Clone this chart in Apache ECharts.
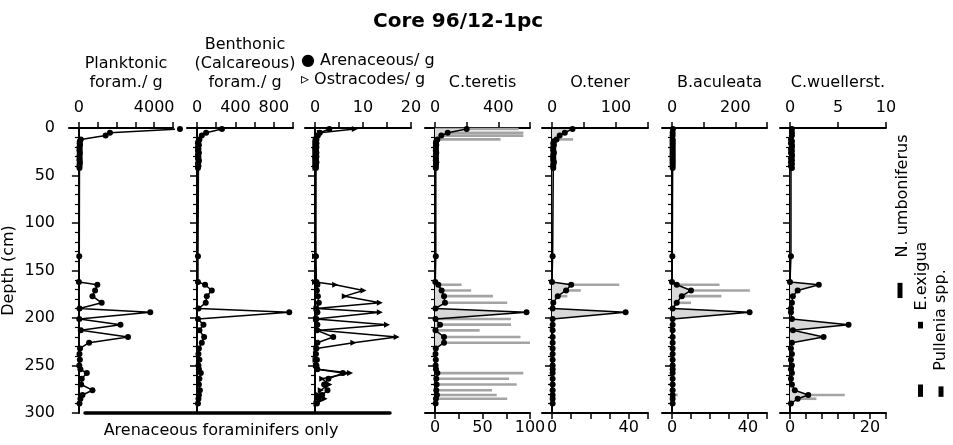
<!DOCTYPE html>
<html><head><meta charset="utf-8">
<script src="https://cdn.jsdelivr.net/npm/echarts@6/dist/echarts.min.js"></script>
<style>html,body{margin:0;padding:0;background:#fff}#c{width:953px;height:445px}</style>
</head><body><div id="c"></div>
<script>
// ---------- DATA ----------
const depthCm = [1,5,8,12,14,16,18,20,22,24,26,28,30,32,34,36,38,40,42,
  135,
  162,165,171,177,184,190,194,201,207,213,220,226,232,238,244,250,254,258,264,270,276,281,285,290];

const planktonic = [5370,1650,1420,100,50,40,60,30,40,30,50,40,30,40,30,50,40,30,30,
  20,
  0,980,860,720,1210,30,3790,20,2210,100,2610,540,60,30,50,20,80,420,150,120,720,190,80,30];
const benthonic = [260,95,50,25,15,10,20,10,15,10,20,10,15,10,20,15,10,15,10,
  10,
  10,84,154,102,91,15,961,10,67,25,74,50,20,15,25,15,20,40,25,20,30,20,15,10];
const arenaceous = [3.0,1.0,0.6,0.3,0.2,0.3,0.2,0.3,0.2,0.2,0.3,0.2,0.3,0.2,0.2,0.3,0.2,0.2,0.2,
  0.2,
  0.3,0.5,0.4,0.6,0.8,0.3,0.5,0.3,0.5,0.4,3.8,0.5,0.3,0.2,0.4,0.3,0.5,5.8,2.8,1.9,2.6,1.5,0.8,0.4];
const ostracodes = [8.3,1.0,0.4,0.2,0.1,0.1,0.2,0.1,0.1,0.1,0.2,0.1,0.1,0.1,0.1,0.2,0.1,0.1,0.1,
  0,
  0,4.2,10.1,6.2,13.5,0.3,13.5,0.2,15.0,1.0,17.0,8.0,0.3,0.2,0.1,0.2,0.5,7.3,1.5,3.0,1.2,0.8,2.0,0.3];
const teretis = [200,80,40,15,8,6,8,5,6,5,8,6,5,6,5,8,6,5,5,
  5,
  2,21,42,57,63,3,578,3,32,3,57,57,5,3,5,4,6,15,8,10,8,12,6,4];
const tener = [32,20,12,7,3,2,3,2,2,2,3,2,2,2,2,3,2,2,2,
  1,
  0,30,22,9,2,1,115,1,1,1,1,1,1,1,1,1,1,1,1,1,1,1,1,1];
const aculeata = [3,2,2,2,2,2,2,2,2,2,2,2,2,2,2,2,2,2,2,
  1,
  0,15,60,31,15,2,245,2,2,2,2,2,2,2,2,2,2,2,2,2,2,2,2,2];
const wuellerst = [0.2,0.2,0.2,0.1,0.2,0.1,0.2,0.2,0.1,0.2,0.1,0.2,0.2,0.1,0.2,0.1,0.2,0.1,0.2,
  0.1,
  0,3.0,0.8,0.3,0.2,0.1,0.1,0.2,6.1,0.3,3.5,0.2,0.1,0.2,0.1,0.2,0.1,0.2,0.1,0.2,0.5,1.9,0.8,0.1];

// percentages (grey bars, lower axes)
const teretisPctDepth = [1,5,8,12,165,171,177,184,201,207,213,220,226,258,264,270,276,281,285];
const teretisPct      = [88,93,93,69,28,38,61,76,80,80,47,90,100,93,78,86,60,65,76];
const tenerPctDepth = [12,165,171,177];
const tenerPct      = [11,35,15,8];
const aculeataPctDepth = [165,171,177,184,281];
const aculeataPct      = [25,41,26,10,3];
const wuellerstPctDepth = [281,285];
const wuellerstPct      = [13.7,6.6];

// presence markers (right side)
const markerTaxa = ['N. umboniferus','E.exigua','Pullenia spp.'];
const markerTaxon = [0,1,1,2];
const markerTop = [163,204,270,272];
const markerBottom = [179,211,283,283];

// axis ticks / labels
const depthTicks = [0,50,100,150,200,250,300];
const planktTicks = [0,1000,2000,3000,4000,5000], planktLabels = [0,4000];
const benthTicks = [0,200,400,600,800,1000], benthLabels = [0,400,800];
const arenTicks = [0,5,10,15,20], arenLabels = [0,10,20];
const teretisTicks = [0,200,400,600], teretisLabels = [0,400];
const teretisPctTicks = [0,25,50,75,100], teretisPctLabels = [0,50,100];
const tenerTicks = [0,50,100,150], tenerLabels = [0,100];
const tenerPctTicks = [0,10,20,30,40,50], tenerPctLabels = [0,40];
const aculeataTicks = [0,100,200,300], aculeataLabels = [0,200];
const aculeataPctTicks = [0,10,20,30,40,50], aculeataPctLabels = [0,40];
const wuellerstTicks = [0,5,10], wuellerstLabels = [0,5,10];
const wuellerstPctTicks = [0,4,8,12,16,20,24], wuellerstPctLabels = [0,20];

// ---------- LAYOUT ----------
const FONT = 'DejaVu Sans';
const TOP = 128, H = 285;
const panels = [
  {left:68,  width:105, zero:10, title:'Planktonic\nforam./ g', top:{max:5000,ticks:planktTicks,labels:planktLabels}},
  {left:187, width:106, zero:10, title:'Benthonic\n(Calcareous)\nforam./ g', top:{max:1000,ticks:benthTicks,labels:benthLabels}},
  {left:305, width:106, zero:10, title:'', top:{max:20,ticks:arenTicks,labels:arenLabels}},
  {left:425, width:105, zero:10, title:'C.teretis', top:{max:600,ticks:teretisTicks,labels:teretisLabels}, bot:{max:100,ticks:teretisPctTicks,labels:teretisPctLabels}},
  {left:542, width:106, zero:10, title:'O.tener', top:{max:150,ticks:tenerTicks,labels:tenerLabels}, bot:{max:50,ticks:tenerPctTicks,labels:tenerPctLabels}},
  {left:662, width:105, zero:10, title:'B.aculeata', top:{max:300,ticks:aculeataTicks,labels:aculeataLabels}, bot:{max:50,ticks:aculeataPctTicks,labels:aculeataPctLabels}},
  {left:780, width:106, zero:10, title:'C.wuellerst.', top:{max:10,ticks:wuellerstTicks,labels:wuellerstLabels}, bot:{max:24,ticks:wuellerstPctTicks,labels:wuellerstPctLabels}}
];

const grid = [], xAxis = [], yAxis = [], series = [];
const topIdx = [], botIdx = [];
const black = '#000';
function mkX(gi, pos, ax, w, zero, extra){
  const minV = -zero/(w-zero)*ax.max;
  return Object.assign({
    gridIndex: gi, type:'value', position: pos, min: minV, max: ax.max,
    axisLine:{show:true, onZero:false, lineStyle:{color:black,width:2}},
    axisTick:{show:true, customValues: ax.ticks, length:6, lineStyle:{color:black,width:1.5}},
    axisLabel:{show:true, customValues: ax.labels, formatter: v => String(v), color:black, fontFamily:FONT, fontSize:16, margin: pos==='top'?12:7},
    splitLine:{show:false}
  }, extra||{});
}
panels.forEach((p,i)=>{
  grid.push({left:p.left, width:p.width, top:TOP, height:H});
  topIdx[i] = xAxis.length;
  xAxis.push(mkX(i,'top',p.top,p.width,p.zero, p.title ? {
    name:p.title, nameLocation:'middle', nameGap:36,
    nameTextStyle:{color:black, fontFamily:FONT, fontSize:16, lineHeight:19, padding:[0,0,0,10]}
  } : {}));
  if (p.bot) { botIdx[i] = xAxis.length; xAxis.push(mkX(i,'bottom',p.bot,p.width,p.zero)); }
  yAxis.push({
    gridIndex:i, type:'value', inverse:true, min:0, max:300, interval:50,
    axisLine:{show:true, onZero:true, onZeroAxisIndex: topIdx[i], lineStyle:{color:black,width:2}},
    axisTick:{show:true, length:7, lineStyle:{color:black,width:1.5}},
    minorTick:{show:true, splitNumber:5, length:4, lineStyle:{color:black,width:1.2}},
    axisLabel:{show:i===0, color:black, fontFamily:FONT, fontSize:16, margin:14, customValues: depthTicks},
    splitLine:{show:false},
    name: i===0 ? 'Depth (cm)' : '', nameLocation:'middle', nameGap:52,
    nameTextStyle:{color:black, fontFamily:FONT, fontSize:16}
  });
});

// bottom thick line grid (panels 1-3)
grid.push({left:85, width:305, top:TOP, height:H});
xAxis.push({gridIndex:7, type:'value', position:'bottom', min:0, max:1,
  axisLine:{show:true,onZero:false,lineStyle:{color:black,width:3.5}}, axisTick:{show:false}, axisLabel:{show:false}, splitLine:{show:false},
  name:'Arenaceous foraminifers only', nameLocation:'middle', nameGap:10,
  nameTextStyle:{color:black, fontFamily:FONT, fontSize:16, padding:[0,33,0,0]}});
yAxis.push({gridIndex:7, type:'value', show:false, min:0, max:1});

// marker grid
grid.push({left:889.75, width:61.5, top:TOP, height:H});
const markerX = xAxis.length;
xAxis.push({gridIndex:8, type:'category', data:markerTaxa, show:false});
const markerY = yAxis.length;
yAxis.push({gridIndex:8, type:'value', inverse:true, min:0, max:300, show:false});

// ---------- SERIES ----------
function lineS(pi, vals, sym, extra){
  return Object.assign({type:'line', xAxisIndex:topIdx[pi], yAxisIndex:pi,
    data: depthCm.map((d,k)=>[vals[k], d]),
    symbol: sym||'circle', symbolSize:6, showSymbol:true, clip:false, z:5,
    lineStyle:{color:black,width:1.5}, itemStyle:{color:black}, animation:false}, extra||{});
}
function fillS(pi, vals){
  return {type:'custom', xAxisIndex:topIdx[pi], yAxisIndex:pi, z:2, silent:true, clip:false,
    data: depthCm.map((d,k)=>[vals[k], d]), encode:{x:0,y:1},
    renderItem:(params, api)=>{
      if (params.dataIndex !== 0) return null;
      const pts = [api.coord([0, depthCm[0]])];
      depthCm.forEach((d,k)=>pts.push(api.coord([vals[k], d])));
      pts.push(api.coord([0, depthCm[depthCm.length-1]]));
      return {type:'polygon', shape:{points:pts}, style:{fill:'#d8d8d8'}};
    }};
}
function barS(pi, depths, vals){
  return {type:'custom', xAxisIndex:botIdx[pi], yAxisIndex:pi, z:1, silent:true,
    data: depths.map((d,k)=>[vals[k], d]), encode:{x:0,y:1},
    renderItem:(params, api)=>{
      const a = api.coord([0, api.value(1)]), b = api.coord([api.value(0), api.value(1)]);
      return {type:'rect', shape:{x:a[0], y:a[1]-1.3, width:b[0]-a[0], height:2.6}, style:{fill:'#a4a4a4'}};
    }};
}
series.push(lineS(0, planktonic));
series.push(lineS(1, benthonic));
series.push(lineS(2, arenaceous));
series.push(lineS(2, ostracodes, 'triangle', {symbolRotate:-90, symbolSize:6}));
[[3,teretis,teretisPctDepth,teretisPct],[4,tener,tenerPctDepth,tenerPct],[5,aculeata,aculeataPctDepth,aculeataPct],[6,wuellerst,wuellerstPctDepth,wuellerstPct]].forEach(([pi,v,pd,pv])=>{
  series.push(barS(pi,pd,pv));
  series.push(fillS(pi,v));
  series.push(lineS(pi,v));
});
series.push({type:'custom', xAxisIndex:markerX, yAxisIndex:markerY, z:3,
  data: markerTaxon.map((t,k)=>[t, markerTop[k], markerBottom[k]]), encode:{x:0,y:[1,2]},
  renderItem:(params, api)=>{
    const a = api.coord([api.value(0), api.value(1)]), b = api.coord([api.value(0), api.value(2)]);
    return {type:'rect', shape:{x:a[0]-2.5, y:a[1], width:5, height:b[1]-a[1]}, style:{fill:black}};
  }});

const txt = (s, x, y, rot, extra) => Object.assign({type:'text', x, y, rotation: rot||0, silent:true,
  style:{text:s, fill:black, font:'16px "DejaVu Sans"', textAlign:'center', textVerticalAlign:'middle'}}, extra||{});

const option = {
  backgroundColor:'#fff', animation:false,
  title:{text:'Core 96/12-1pc', left:368, top:7, textStyle:{fontFamily:FONT, fontSize:20, fontWeight:'bold', color:black}},
  grid, xAxis, yAxis, series,
  graphic:[
    {type:'text', x:301, y:61, silent:true, style:{text:'● Arenaceous/ g', fill:black, font:'16px "DejaVu Sans"', textAlign:'left', textVerticalAlign:'middle'}},
    {type:'text', x:301, y:80, silent:true, style:{text:'▹ Ostracodes/ g', fill:black, font:'16px "DejaVu Sans"', textAlign:'left', textVerticalAlign:'middle'}},
    txt(markerTaxa[0], 903, 196, Math.PI/2),
    txt(markerTaxa[1], 922, 276, Math.PI/2),
    txt(markerTaxa[2], 941, 320, Math.PI/2)
  ]
};
const chart = echarts.init(document.getElementById('c'));
chart.setOption(option);
</script></body></html>
